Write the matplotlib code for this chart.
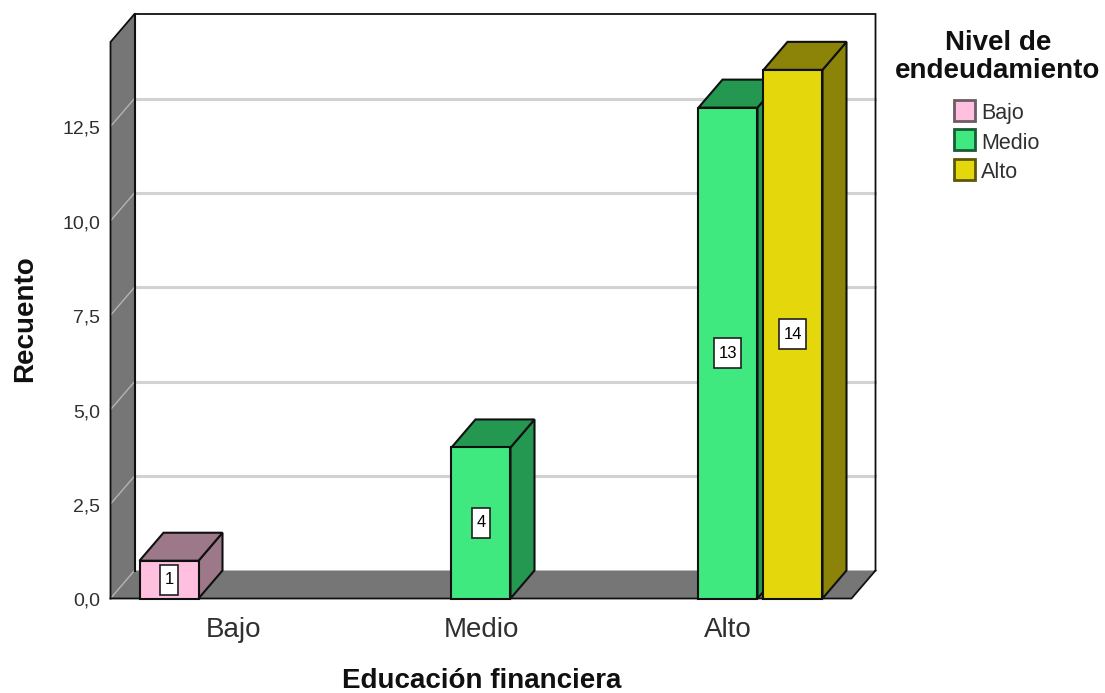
import matplotlib
matplotlib.use("Agg")
import matplotlib.pyplot as plt
from matplotlib.patches import Polygon, Rectangle
from matplotlib.transforms import ScaledTranslation

plt.rcParams["font.family"] = ["Liberation Sans", "DejaVu Sans"]

categories = ["Bajo", "Medio", "Alto"]
levels = ["Bajo", "Medio", "Alto"]
offsets = {"Bajo": -1, "Medio": 0, "Alto": 1}
counts = {
    "Bajo": [1, 0, 0],
    "Medio": [0, 4, 13],
    "Alto": [0, 0, 14],
}
y_ticks = [0, 2.5, 5, 7.5, 10, 12.5]
y_tick_labels = ["0,0", "2,5", "5,0", "7,5", "10,0", "12,5"]

face = {"Bajo": "#ffc0e0", "Medio": "#40e880", "Alto": "#e4d80c"}
side = {"Bajo": "#9c7888", "Medio": "#249850", "Alto": "#8c8408"}
legend_edge = {"Bajo": "#6c5c64", "Medio": "#185c34", "Alto": "#5c5608"}
wall = "#767676"

W, H = 1105, 693
fig = plt.figure(figsize=(W / 100, H / 100), dpi=100)

# front plane of the 3d box, in pixels
left, right, bottom, top = 110.5, 851.5, 598.5, 42
px_y = 37.76
ax = fig.add_axes([left / W, 1 - bottom / H, (right - left) / W, (bottom - top) / H])
ax.set_xlim(-0.5, 2.5)
ax.set_ylim(0, (bottom - top) / px_y)
ax.patch.set_visible(False)
for s in ax.spines.values():
    s.set_visible(False)

px_x = (right - left) / 3
dx = 24 / px_x
dy = 28 / px_y
x0, x1 = ax.get_xlim()
y1 = ax.get_ylim()[1]

# left wall and floor
ax.add_patch(Polygon([(x0, 0), (x0, y1), (x0 + dx, y1 + dy), (x0 + dx, dy)], fc=wall, ec="none", clip_on=False, zorder=1))
ax.add_patch(Polygon([(x0, 0), (x1, 0), (x1 + dx, dy), (x0 + dx, dy)], fc=wall, ec="none", clip_on=False, zorder=1))

# gridlines on back wall and wall diagonals
for t in y_ticks[1:]:
    ax.plot([x0 + dx, x1 + dx], [t + dy, t + dy], color="#d2d2d2", lw=2.2, clip_on=False, zorder=1)
for t in y_ticks:
    ax.plot([x0, x0 + dx], [t, t + dy], color="#b4b4b4", lw=1, clip_on=False, zorder=2)

# box edges
ax.plot([x0, x0, x0 + dx, x1 + dx, x1 + dx], [0, y1, y1 + dy, y1 + dy, dy], color="#101010", lw=1.3, clip_on=False, zorder=2, solid_joinstyle="miter")
ax.plot([x0 + dx, x0 + dx], [dy, y1 + dy], color="#101010", lw=1.5, clip_on=False, zorder=2)
ax.plot([x0, x1, x1 + dx], [0, 0, dy], color="#101010", lw=1.3, clip_on=False, zorder=2)

# bars
width = 59 / px_x
step = 65 / px_x
z = 3
for lev in levels:
    for i, v in enumerate(counts[lev]):
        if v == 0:
            continue
        xa = i + offsets[lev] * step - width / 2
        xb = xa + width
        ax.add_patch(Polygon([(xb, 0), (xb + dx, dy), (xb + dx, v + dy), (xb, v)], fc=side[lev], ec="#101010", lw=1.5, clip_on=False, zorder=z))
        ax.add_patch(Polygon([(xa, v), (xa + dx, v + dy), (xb + dx, v + dy), (xb, v)], fc=side[lev], ec="#101010", lw=1.5, clip_on=False, zorder=z))
        ax.bar(xa + width / 2, v, width=width, color=face[lev], edgecolor="#101010", lw=1.5, zorder=z + 1, clip_on=False)
        # value label box, taller than the text
        xc = xa + width / 2
        bw = (18 if v < 10 else 27) / px_x
        bh = 30 / px_y
        ax.add_patch(Rectangle((xc - bw / 2, v / 2 - bh / 2), bw, bh, fc="white", ec="#202020", lw=1.2, zorder=z + 2, clip_on=False))
        ax.text(xc, v / 2, str(v), ha="center", va="center", fontsize=12, color="black", zorder=z + 3)
        z += 4

ax.set_xticks(range(len(categories)))
ax.set_xticklabels(categories, fontsize=20, color="#303030")
ax.tick_params(axis="x", length=0, pad=13)

# y tick labels sit a bit below the front gridline position
ax.set_yticks(y_ticks)
ax.set_yticklabels([])
ax.tick_params(axis="y", length=0)
shift = ax.get_yaxis_transform() + ScaledTranslation(-10 / 100, -3 / 100, fig.dpi_scale_trans)
for t, lab in zip(y_ticks, y_tick_labels):
    ax.text(0, t, lab, transform=shift, ha="right", va="center", fontsize=14, color="#303030", clip_on=False)

fig.text(482 / W, 1 - 681.5 / H, "Educación financiera", fontsize=20, fontweight="bold", ha="center", va="center", color="#101010")
fig.text(25 / W, 1 - 319 / H, "Recuento", fontsize=20, fontweight="bold", rotation=90, ha="center", va="center", color="#101010")

# legend
fig.text(998 / W, 1 - 43 / H, "Nivel de", fontsize=20, fontweight="bold", ha="center", va="center", color="#101010")
fig.text(998 / W, 1 - 71 / H, "endeudamiento", fontsize=20, fontweight="bold", ha="center", va="center", color="#101010")
for n, lev in enumerate(levels):
    yy = 110 + n * 29.5
    fig.add_artist(Rectangle((953.5 / W, 1 - (yy + 10.5) / H), 21 / W, 21 / H, transform=fig.transFigure, fc=face[lev], ec=legend_edge[lev], lw=2))
    fig.text(981 / W, 1 - (yy + 4) / H, lev, fontsize=15.5, ha="left", va="center", color="#303030")

fig.savefig("out.png", dpi=100)
